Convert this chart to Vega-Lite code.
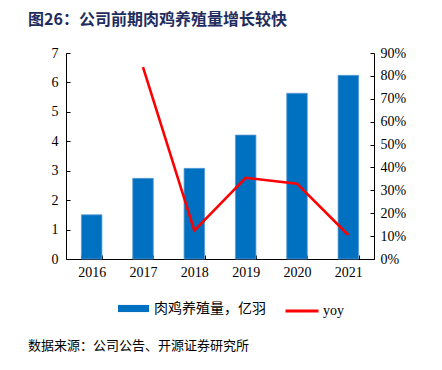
{
  "$schema": "https://vega.github.io/schema/vega-lite/v6.json",
  "padding": {"left": 28, "top": 12, "right": 10, "bottom": 5},
  "background": "white",
  "title": {
    "text": "数据来源：公司公告、开源证券研究所",
    "orient": "bottom",
    "anchor": "start",
    "frame": "bounds",
    "font": "Noto Sans CJK SC",
    "fontSize": 13,
    "fontWeight": "normal",
    "color": "#000000",
    "offset": 22
  },
  "vconcat": [
    {
      "width": 308,
      "height": 206,
      "data": {
        "values": [
          {"year": "2016", "value": 1.5, "yoy": null},
          {"year": "2017", "value": 2.74, "yoy": 0.838},
          {"year": "2018", "value": 3.08, "yoy": 0.124},
          {"year": "2019", "value": 4.21, "yoy": 0.355},
          {"year": "2020", "value": 5.63, "yoy": 0.329},
          {"year": "2021", "value": 6.24, "yoy": 0.105}
        ]
      },
      "title": {
        "text": "图26：公司前期肉鸡养殖量增长较快",
        "anchor": "start",
        "frame": "bounds",
        "dx": -23,
        "font": "Noto Sans CJK SC",
        "fontSize": 16,
        "fontWeight": "bold",
        "color": "#1f2d5e",
        "offset": 18
      },
      "encoding": {
        "x": {
          "field": "year",
          "type": "nominal",
          "scale": {"paddingInner": 0.6, "paddingOuter": 0.3},
          "axis": {
            "title": null,
            "labelAngle": 0,
            "tickBand": "extent",
            "tickSize": -4,
            "labelPadding": 10,
            "domainColor": "#000000",
            "tickColor": "#000000",
            "labelFont": "Liberation Serif",
            "labelFontSize": 14,
            "labelColor": "#000000"
          }
        }
      },
      "layer": [
        {
          "mark": {"type": "bar", "fill": "#0070C0", "stroke": "#5B9BD5", "strokeWidth": 0.8},
          "encoding": {
            "y": {
              "field": "value",
              "type": "quantitative",
              "scale": {"domain": [0, 7]},
              "axis": {
                "title": null,
                "grid": false,
                "values": [0, 1, 2, 3, 4, 5, 6, 7],
                "labelOverlap": false,
                "tickSize": -4,
                "labelPadding": 12,
                "domainColor": "#000000",
                "tickColor": "#000000",
                "labelFont": "Liberation Serif",
                "labelFontSize": 14,
                "labelColor": "#000000"
              }
            },
            "fill": {
              "datum": "肉鸡养殖量，亿羽",
              "type": "nominal",
              "scale": {"range": ["#0070C0"]},
              "legend": {
                "title": null,
                "orient": "bottom",
                "direction": "horizontal",
                "offset": 14,
                "symbolType": "M-1,-0.23H1V0.23H-1Z",
                "symbolSize": 961,
                "symbolStrokeWidth": 0,
                "symbolOffset": 22,
                "labelOffset": 5,
                "labelFont": "Noto Sans CJK SC",
                "labelFontSize": 14,
                "labelColor": "#000000"
              }
            }
          }
        },
        {
          "mark": {"type": "line", "strokeWidth": 2.6},
          "encoding": {
            "y": {
              "field": "yoy",
              "type": "quantitative",
              "scale": {"domain": [0, 0.9]},
              "axis": {
                "orient": "right",
                "title": null,
                "grid": false,
                "format": ".0%",
                "values": [0, 0.1, 0.2, 0.3, 0.4, 0.5, 0.6, 0.7, 0.8, 0.9],
                "labelOverlap": false,
                "tickSize": -4,
                "labelPadding": 10,
                "domainColor": "#000000",
                "tickColor": "#000000",
                "labelFont": "Liberation Serif",
                "labelFontSize": 14,
                "labelColor": "#000000"
              }
            },
            "stroke": {
              "datum": "yoy",
              "type": "nominal",
              "scale": {"range": ["#FF0000"]},
              "legend": {
                "title": null,
                "orient": "bottom",
                "direction": "horizontal",
                "offset": 14,
                "symbolType": "stroke",
                "symbolSize": 1089,
                "symbolStrokeWidth": 3,
                "labelOffset": 3,
                "labelFont": "Liberation Serif",
                "labelFontSize": 14,
                "labelColor": "#000000"
              }
            }
          }
        }
      ],
      "resolve": {"scale": {"y": "independent"}}
    }
  ],
  "config": {
    "view": {"stroke": null},
    "axis": {"domainWidth": 1},
    "legend": {
      "layout": {
        "bottom": {"anchor": "middle", "direction": "horizontal", "margin": 18}
      }
    }
  }
}
